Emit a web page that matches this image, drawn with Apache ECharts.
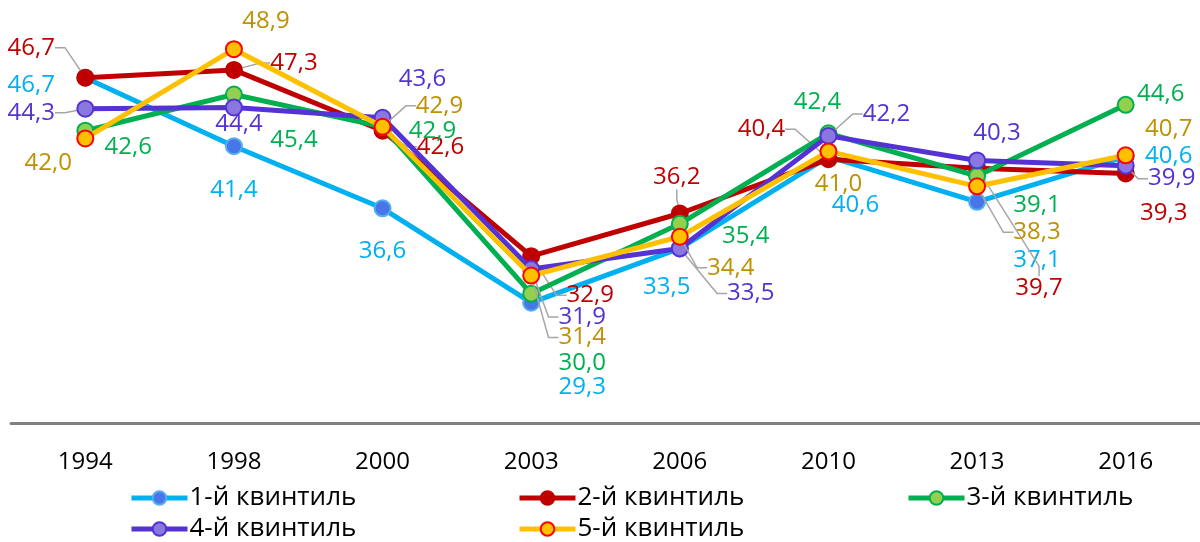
<!DOCTYPE html>
<html>
<head>
<meta charset="utf-8">
<script src="https://cdn.jsdelivr.net/npm/echarts@6/dist/echarts.min.js"></script>
<style>
html,body{margin:0;padding:0;background:#fff;}
#c{width:1200px;height:542px;}
</style>
</head>
<body>
<div id="c"></div>
<script>
// ---- data ----
const years = ['1994','1998','2000','2003','2006','2010','2013','2016'];
const seriesNames = ['1-й квинтиль','2-й квинтиль','3-й квинтиль','4-й квинтиль','5-й квинтиль'];
const q1 = [46.7, 41.4, 36.6, 29.3, 33.5, 40.6, 37.1, 40.6];
const q2 = [46.7, 47.3, 42.6, 32.9, 36.2, 40.4, 39.7, 39.3];
const q3 = [42.6, 45.4, 42.9, 30.0, 35.4, 42.4, 39.1, 44.6];
const q4 = [44.3, 44.4, 43.6, 31.9, 33.5, 42.2, 40.3, 39.9];
const q5 = [42.0, 48.9, 42.9, 31.4, 34.4, 41.0, 38.3, 40.7];
const values = [q1, q2, q3, q4, q5];

// ---- styles ----
const lineColors  = ['#00B0F0', '#C00000', '#00B050', '#5432D3', '#FFC000'];
const labelColors = ['#00B0F0', '#C00000', '#00B050', '#5432D3', '#BF9000'];
const markerFill  = ['#4876E8', '#C00000', '#92D050', '#8B77E0', '#FFC000'];
const markerBorder= ['#52AEEE', '#C00000', '#00B050', '#5432D3', '#FF0000'];

// label offsets (px) relative to each marker, per series
const labelOffsets = [
  [[-54,7],[0,44],[0,43],[51,84],[-13,39],[27,49],[60,58],[43,0]],
  [[-54,-30],[60,-7],[58,16],[59,39],[-3,-36],[-67,-30],[62,120],[38,40]],
  [[43,16],[60,46],[50,4],[51,69],[66,12],[-11,-31],[60,29],[35,-11]],
  [[-54,4],[5,17],[40,-39],[51,48],[71,45],[58,-22],[20,-27],[46,13]],
  [[-37,25],[32,-28],[57,-21],[51,62],[51,31],[10,33],[60,46],[43,-26]]
];
const leaders = [
  [0,0,0,0,0,0,0,0],
  [1,1,1,1,1,1,1,0],
  [0,0,0,0,0,0,0,0],
  [1,0,0,1,1,1,0,1],
  [0,0,1,1,1,0,1,0]
];

const FONT = '"Open Sans", "Noto Sans", sans-serif';
const fmt = v => v.toFixed(1).replace('.', ',');

const series = values.map((vals, s) => ({
  name: seriesNames[s],
  type: 'line',
  data: vals.map((v, i) => ({ value: v, labelLine: { show: !!leaders[s][i] } })),
  symbol: 'circle',
  symbolSize: 16,
  lineStyle: { color: lineColors[s], width: 5 },
  itemStyle: { color: markerFill[s], borderColor: markerBorder[s], borderWidth: 2 },
  label: {
    show: true,
    position: 'inside',
    formatter: p => fmt(p.value),
    color: labelColors[s],
    fontFamily: FONT,
    fontSize: 24
  },
  labelLine: { show: false, length2: 10, lineStyle: { color: '#A6A6A6', width: 1.5 } },
  labelLayout: p => ({ dx: labelOffsets[s][p.dataIndex][0], dy: labelOffsets[s][p.dataIndex][1] }),
  z: 2 + s
}));

const legendPos = [[129,485],[517,485],[906,485],[129,516],[517,516]];
const legends = seriesNames.map((n, i) => ({
  data: [n],
  left: legendPos[i][0],
  top: legendPos[i][1],
  padding: 0,
  itemWidth: 56,
  itemHeight: 17,
  itemGap: 0,
  selectedMode: false,
  lineStyle: { width: 5 },
  textStyle: { fontFamily: FONT, fontSize: 26, color: '#000', padding: [0,0,0,-3] }
}));

const chart = echarts.init(document.getElementById('c'));
chart.setOption({
  animation: false,
  backgroundColor: '#fff',
  grid: { left: 11, right: 0, top: 35, bottom: 119, containLabel: false },
  xAxis: {
    type: 'category',
    data: years,
    boundaryGap: true,
    axisLine: { lineStyle: { color: '#808080', width: 3 } },
    axisTick: { show: false },
    axisLabel: { color: '#000', fontFamily: FONT, fontSize: 24, margin: 27 }
  },
  yAxis: {
    type: 'value',
    min: 20, max: 50,
    show: false,
    splitLine: { show: false }
  },
  legend: legends,
  series: series
});
</script>
</body>
</html>
